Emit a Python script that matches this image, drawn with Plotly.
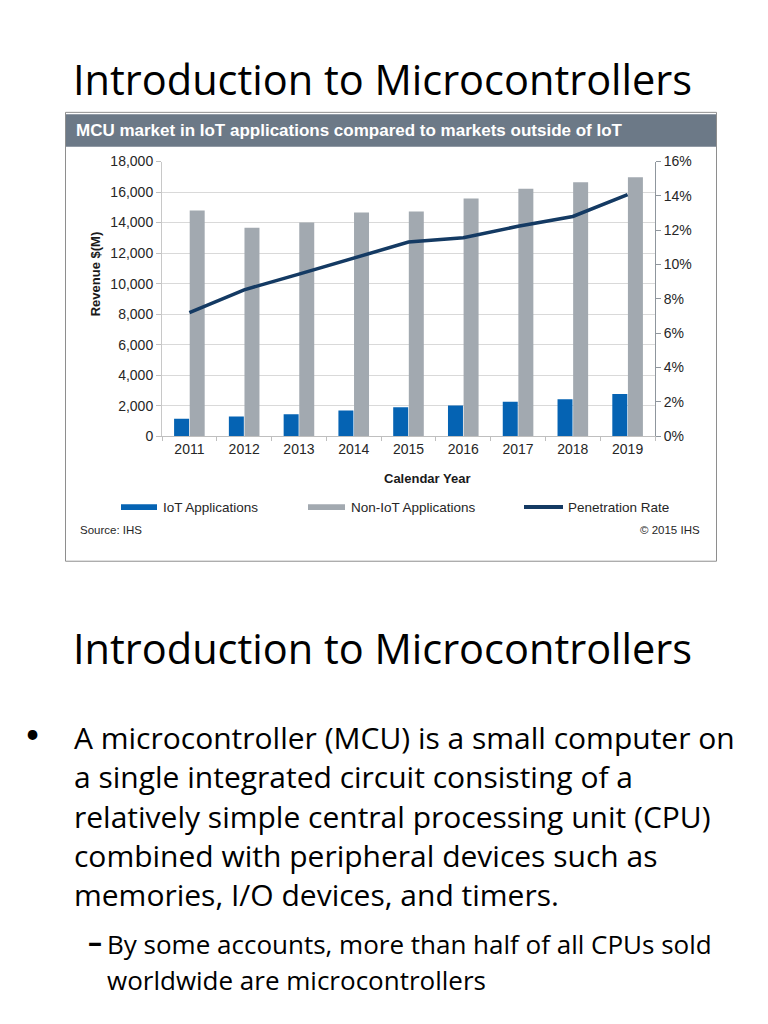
import plotly.graph_objects as go

# ---------------- data ----------------
years = ["2011", "2012", "2013", "2014", "2015", "2016", "2017", "2018", "2019"]
iot_revenue = [1150, 1290, 1440, 1690, 1900, 2020, 2250, 2420, 2770]
non_iot_revenue = [14790, 13670, 14010, 14660, 14730, 15580, 16220, 16650, 16970]
penetration_rate = [0.072, 0.0853, 0.0944, 0.104, 0.1131, 0.1156, 0.1223, 0.128, 0.1408]

W, H = 768, 1024


def px(x):
    return x / W


def py(y):
    return 1 - y / H


BLUE = "#0563b3"
GRAY = "#a2a9b0"
NAVY = "#143a63"
ARIAL = "Liberation Sans, Arial, sans-serif"
TICKF = dict(family=ARIAL, size=14, color="#262626")
SLIDE = "Open Sans, Lato, sans-serif"

fig = go.Figure()
fig.add_trace(go.Bar(x=years, y=iot_revenue, name="IoT Applications",
                     marker=dict(color=BLUE, line=dict(width=0))))
fig.add_trace(go.Bar(x=years, y=non_iot_revenue, name="Non-IoT Applications",
                     marker=dict(color=GRAY, line=dict(width=0))))
fig.add_trace(go.Scatter(x=years, y=penetration_rate, name="Penetration Rate",
                         mode="lines", yaxis="y2",
                         line=dict(color=NAVY, width=3.5)))

shapes = []
# chart frame
shapes.append(dict(type="rect", xref="paper", yref="paper",
                   x0=px(65.5), x1=px(716.5), y0=py(106), y1=py(562),
                   line=dict(color="#8e8e8e", width=1), fillcolor="rgba(0,0,0,0)",
                   layer="below"))
# title bar
shapes.append(dict(type="rect", xref="paper", yref="paper",
                   x0=px(66), x1=px(716), y0=py(108), y1=py(141),
                   line=dict(width=0), fillcolor="#6c7987", layer="below"))
# legend swatches
shapes.append(dict(type="rect", xref="paper", yref="paper",
                   x0=px(121), x1=px(157), y0=py(504), y1=py(510),
                   line=dict(width=0), fillcolor=BLUE))
shapes.append(dict(type="rect", xref="paper", yref="paper",
                   x0=px(308), x1=px(345), y0=py(504), y1=py(510),
                   line=dict(width=0), fillcolor=GRAY))
shapes.append(dict(type="line", xref="paper", yref="paper",
                   x0=px(524), x1=px(563), y0=py(507), y1=py(507),
                   line=dict(color=NAVY, width=4)))

annotations = []


def txt(x, y, s, size, color="#000", family=SLIDE, anchor="left", bold=False, angle=0):
    if bold:
        s = "<b>" + s + "</b>"
    annotations.append(dict(x=px(x), y=py(y), xref="paper", yref="paper", text=s,
                            showarrow=False, xanchor=anchor, yanchor="middle",
                            textangle=angle,
                            font=dict(family=family, size=size, color=color)))


txt(71, 72, "Introduction to Microcontrollers", 41.5)
txt(71, 650, "Introduction to Microcontrollers", 41.5)
txt(74, 124, "MCU market in IoT applications compared to markets outside of IoT", 17,
    color="white", family=ARIAL, bold=True)
txt(86, 270, "Revenue $(M)", 13, color="#1a1a1a", family=ARIAL, bold=True, angle=-90)
txt(427, 478, "Calendar Year", 13, color="#1a1a1a", family=ARIAL, bold=True, anchor="center")
txt(161, 507, "IoT Applications", 13.5, color="#262626", family=ARIAL)
txt(349, 507, "Non-IoT Applications", 13.5, color="#262626", family=ARIAL)
txt(566, 507, "Penetration Rate", 13.5, color="#262626", family=ARIAL)
txt(78, 530, "Source: IHS", 11.5, color="#262626", family=ARIAL)
txt(702, 530, "© 2015 IHS", 11.5, color="#262626", family=ARIAL, anchor="right")

bullet_lines = [
    "A microcontroller (MCU) is a small computer on",
    "a single integrated circuit consisting of a",
    "relatively simple central processing unit (CPU)",
    "combined with peripheral devices such as",
    "memories, I/O devices, and timers.",
]
txt(23, 737, "•", 26, family="Lato, sans-serif")
for i, line in enumerate(bullet_lines):
    txt(72, 741 + i * 40, line, 30)
txt(86, 948, "–", 28, bold=True)
txt(105, 951, "By some accounts, more than half of all CPUs sold", 26)
txt(105, 987, "worldwide are microcontrollers", 26)

fig.update_layout(
    width=W, height=H,
    margin=dict(l=0, r=0, t=0, b=0),
    paper_bgcolor="white", plot_bgcolor="white",
    showlegend=False,
    barmode="group", bargap=0.43, bargroupgap=0.04,
    xaxis=dict(domain=[px(162), px(655)], type="category",
               showgrid=False, showline=True, linecolor="#bfbfbf", linewidth=1,
               ticks="outside", tickson="boundaries", ticklen=4, tickcolor="#bfbfbf",
               tickfont=TICKF, fixedrange=True),
    yaxis=dict(domain=[py(435), py(156)], range=[0, 18000], dtick=2000,
               tickformat=",d", showgrid=True, gridcolor="#d9d9d9", gridwidth=1,
               showline=True, linecolor="#c8c8c8", ticks="outside", ticklen=5,
               tickcolor="#bfbfbf", tickfont=TICKF, zeroline=False, fixedrange=True),
    yaxis2=dict(overlaying="y", side="right", range=[0, 0.16], dtick=0.02,
                tickformat=".0%", showgrid=False, showline=True, linecolor="#8f969d",
                ticks="outside", ticklen=5, tickcolor="#8f969d", tickfont=TICKF,
                zeroline=False, fixedrange=True),
    shapes=shapes,
    annotations=annotations,
)

fig.write_html("out.html", config={"displayModeBar": False})
